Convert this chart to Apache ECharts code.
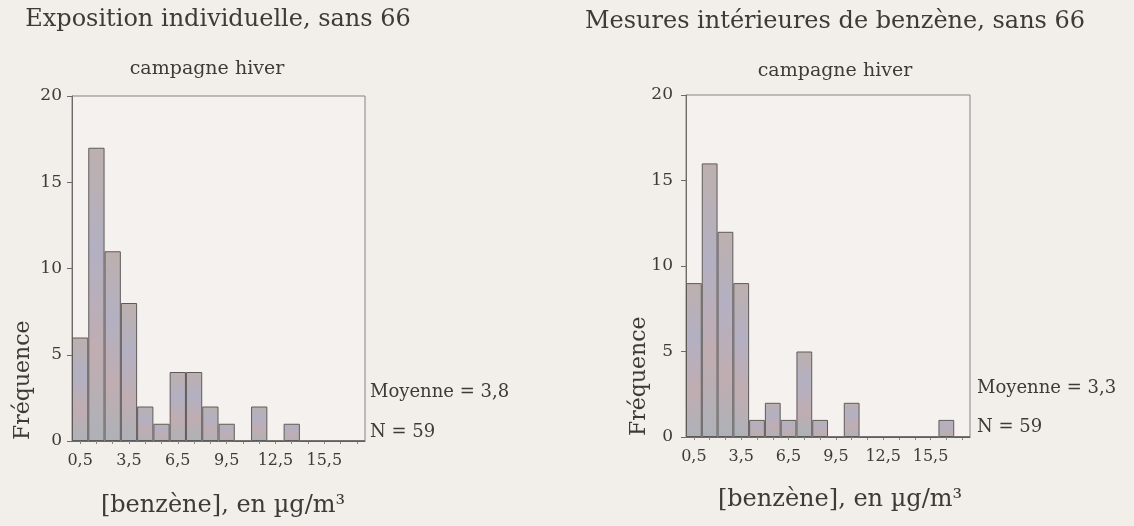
<!DOCTYPE html>
<html>
<head>
<meta charset="utf-8">
<title>Benzène - campagne hiver</title>
<script src="https://cdn.jsdelivr.net/npm/echarts@6/dist/echarts.min.js"></script>
<style>
    html, body {margin: 0; padding: 0; background: #f2eeea;}
    #main {width: 1134px; height: 526px;}
</style>
</head>
<body>
<div id="main"></div>
<script>
//Bin centres (µg/m3), one bar per bin
var bins = ['0,5', '1,5', '2,5', '3,5', '4,5', '5,5', '6,5', '7,5', '8,5',
    '9,5', '10,5', '11,5', '12,5', '13,5', '14,5', '15,5', '16,5', '17,5'];
//Exposition individuelle
var freqPerso = [6, 17, 11, 8, 2, 1, 4, 4, 2, 1, 0, 2, 0, 1, 0, 0, 0, 0];
//Mesures intérieures
var freqInt = [9, 16, 12, 9, 1, 2, 1, 5, 1, 0, 2, 0, 0, 0, 0, 0, 1, 0];
var yTicks = [0, 5, 10, 15, 20];
var statsPerso = ['Moyenne = 3,8', 'N = 59'];
var statsInt = ['Moyenne = 3,3', 'N = 59'];

var serif = '"DejaVu Serif", "Liberation Serif", serif';
var ink = '#3f3a37';

// bar fill, faded print look
var barFill = {
    type: 'linear', x: 0, y: 0, x2: 0, y2: 1,
    colorStops: [
        {offset: 0, color: '#bdb0ae'},
        {offset: 0.35, color: '#b3b0c2'},
        {offset: 0.7, color: '#c0adb1'},
        {offset: 1, color: '#adb2b8'}
    ]
};

function xAxisFor(gridIndex) {
    return {
        type: 'category',
        gridIndex: gridIndex,
        data: bins,
        boundaryGap: true,
        axisLine: {show: true, lineStyle: {color: '#6f6a68', width: 1}},
        axisTick: {show: true, alignWithLabel: true, interval: 0, length: 3,
            lineStyle: {color: '#8a8583'}},
        axisLabel: {interval: 2, color: ink, fontFamily: serif, fontSize: 16, margin: 12},
        splitLine: {show: false}
    };
}

function yAxisFor(gridIndex, gap) {
    return {
        type: 'value',
        gridIndex: gridIndex,
        min: yTicks[0],
        max: yTicks[yTicks.length - 1],
        interval: 5,
        axisLine: {show: true, lineStyle: {color: '#6f6a68', width: 1}},
        axisTick: {show: true, length: 5, lineStyle: {color: '#6f6a68'}},
        axisLabel: {color: ink, fontFamily: serif, fontSize: 17, margin: gap},
        splitLine: {show: false}
    };
}

function barSeries(idx, values) {
    return {
        type: 'bar',
        xAxisIndex: idx,
        yAxisIndex: idx,
        data: values,
        barCategoryGap: '0%',
        silent: true,
        itemStyle: {color: barFill, borderColor: '#5f5a5a', borderWidth: 1}
    };
}

// plain text, centred on (x, y)
function textAt(x, y, str, size, align, rot) {
    return {
        type: 'text',
        x: x, y: y,
        rotation: rot || 0,
        style: {text: str, fill: ink, font: size + 'px ' + serif,
            textAlign: align || 'left', textVerticalAlign: 'middle'}
    };
}

var myChart = echarts.init(document.getElementById('main'));

var option = {
    backgroundColor: '#f2eeea',
    animation: false,
    grid: [
        {left: 72, right: 769, top: 96, bottom: 85, show: true,
            borderColor: '#8a8380', borderWidth: 1, backgroundColor: '#f4f1ee'},
        {left: 686, right: 164, top: 95, bottom: 89, show: true,
            borderColor: '#8a8380', borderWidth: 1, backgroundColor: '#f4f1ee'}
    ],
    xAxis: [xAxisFor(0), xAxisFor(1)],
    yAxis: [yAxisFor(0, 10), yAxisFor(1, 13)],
    series: [barSeries(0, freqPerso), barSeries(1, freqInt)],
    graphic: [
        //titles
        textAt(218, 20, 'Exposition individuelle, sans 66', 24, 'center'),
        textAt(207, 69, 'campagne hiver', 19, 'center'),
        textAt(835, 22, 'Mesures intérieures de benzène, sans 66', 24, 'center'),
        textAt(835, 71, 'campagne hiver', 19, 'center'),
        //axis names, placed low like the original
        textAt(23, 440, 'Fréquence', 22, 'left', Math.PI / 2),
        textAt(639, 436, 'Fréquence', 22, 'left', Math.PI / 2),
        textAt(223, 506, '[benzène], en µg/m³', 24, 'center'),
        textAt(840, 500, '[benzène], en µg/m³', 24, 'center'),
        //summary stats
        textAt(370, 392, statsPerso[0], 18),
        textAt(370, 432, statsPerso[1], 18),
        textAt(977, 388, statsInt[0], 18),
        textAt(977, 427, statsInt[1], 18)
    ]
};

myChart.setOption(option);
</script>
</body>
</html>
